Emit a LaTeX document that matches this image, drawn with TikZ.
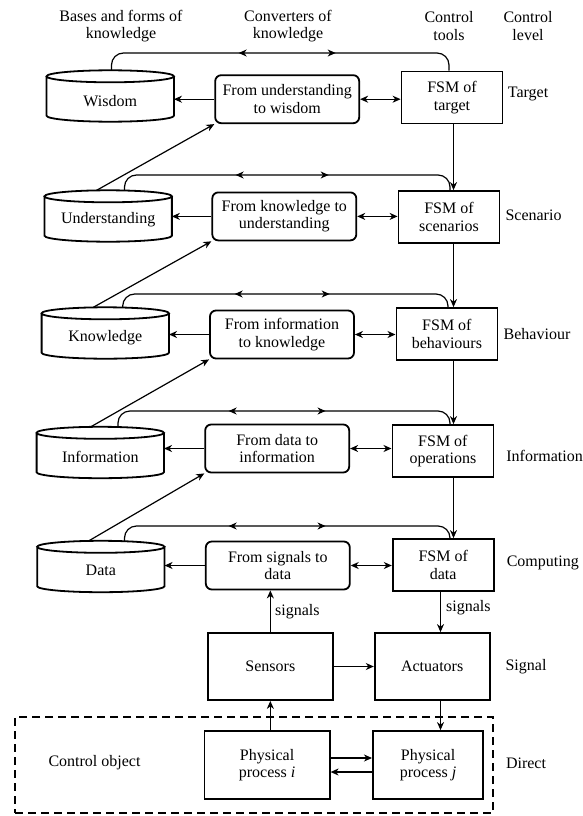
\documentclass[tikz,border=0pt]{standalone}
\usepackage{fontspec}
\setmainfont{Liberation Serif}
\newfontfamily\tnr{Liberation Serif}
\usetikzlibrary{arrows.meta,calc,decorations.markings}
\newcommand\drawcyl[1]{%
  \draw[boxline] let \p1=(#1.north west), \p2=(#1.south east), \n1={(\x2-\x1)/2} in
    ($(#1.north)+(0,6)$) ellipse [x radius=\n1, y radius=6pt]
    (\x1,\y1-6pt) -- (\x1,\y2+6pt) arc [start angle=180, end angle=360, x radius=\n1, y radius=6pt] -- (\x2,\y1-6pt);
}
\begin{document}
\begin{tikzpicture}[x=1pt,y=-1pt,
  every node/.style={font=\tnr\fontsize{16}{17.5}\selectfont},
  >={Stealth[length=8pt,width=7pt,inset=2.5pt]},
  boxline/.style={line width=1.8pt},
  conn/.style={line width=1.2pt},
  cylbox/.style={minimum width=127pt, minimum height=51pt, inner sep=0pt},
  conv/.style={draw, line width=1.8pt, rounded corners=6pt, minimum width=144pt, minimum height=48pt, align=center, inner sep=0pt},
  fsm/.style={draw, line width=1.8pt, minimum width=101pt, minimum height=52pt, align=center, inner sep=0pt},
  blk/.style={draw, line width=1.8pt, minimum height=67pt, align=center, inner sep=0pt},
  hdr/.style={align=center, inner sep=0pt},
  twoheads/.style 2 args={postaction={decorate,decoration={markings,
      mark=at position #1pt with {\arrowreversed{>}},
      mark=at position #2pt with {\arrow{>}}}}},
  arcline/.style={conn, rounded corners=12pt}
]
\useasboundingbox (0,0) rectangle (583,816);

% headers
\node[hdr] (h1) at (121,26) {Bases and forms of\\knowledge};
\node[hdr] (h2) at (288,26) {Converters of\\knowledge};
\node[hdr] (h3) at (449,26) {Control\\tools};
\node[hdr] (h4) at (528,26) {Control\\level};

% row 1
\node[cylbox] (wis) at (110.25,96) {};
\drawcyl{wis}
\node (wisT) at ($(wis.center)+(0,5)$) {Wisdom};
\node[conv] (cv1) at (287.2,99.2) {From understanding\\to wisdom};
\node[fsm] (fsm1) at (452,97.5) {FSM of\\target};
\node (lv1) at (528,94) {Target};

% row 2
\node[cylbox] (und) at (108.15,216) {};
\drawcyl{und}
\node (undT) at ($(und.center)+(0,4)$) {Understanding};
\node[conv] (cv2) at (284.3,216.4) {From knowledge to\\understanding};
\node[fsm] (fsm2) at (449,217) {FSM of\\scenarios};
\node (lv2) at (533.5,215) {Scenario};

% row 3
\node[cylbox] (kno) at (105.3,333) {};
\drawcyl{kno}
\node (knoT) at ($(kno.center)+(0,5)$) {Knowledge};
\node[conv] (cv3) at (282,334.5) {From information\\to knowledge};
\node[fsm] (fsm3) at (446.9,334) {FSM of\\behaviours};
\node (lv3) at (537,334) {Behaviour};

% row 4
\node[cylbox] (inf) at (100.3,452.5) {};
\drawcyl{inf}
\node (infT) at ($(inf.center)+(0,4)$) {Information};
\node[conv] (cv4) at (277.2,448.5) {From data to\\information};
\node[fsm] (fsm4) at (442.9,451) {FSM of\\operations};
\node (lv4) at (544.6,456) {Information};

% row 5
\node[cylbox] (dat) at (100.85,566.5) {};
\drawcyl{dat}
\node (datT) at ($(dat.center)+(0,4)$) {Data};
\node[conv] (cv5) at (277.8,565.5) {From signals to\\data};
\node[fsm] (fsm5) at (443.2,565) {FSM of\\data};
\node (lv5) at (542.8,563) {Computing};

% bottom
\node[blk, minimum width=124.7pt] (sen) at (270.35,666.5) {Sensors};
\node[blk, minimum width=114.9pt] (act) at (432.15,666.5) {Actuators};
\node (lv6) at (526,667) {Signal};
\node[draw, line width=1.6pt, dash pattern=on 8pt off 5pt, minimum width=478pt, minimum height=96pt] (obj) at (254,765) {};
\node[blk, minimum width=125.2pt, minimum height=68pt] (ppi) at (267.1,765) {Physical\\process \textit{i}};
\node[blk, minimum width=110.4pt, minimum height=68pt] (ppj) at (428.1,765) {Physical\\process \textit{j}};
\node (objT) at (94.5,763) {Control object};
\node (lv7) at (526,763) {Direct};

% helper coordinates
\coordinate (vx) at (453.5,0);
\coordinate (sx) at (440.5,0);

% horizontal arrows
\foreach \c/\k/\f in {wis/cv1/fsm1, und/cv2/fsm2, kno/cv3/fsm3, inf/cv4/fsm4, dat/cv5/fsm5}{
  \draw[conn,->] (\k.west) -- (\k.west -| \c.east);
  \draw[conn,<->] (\k.east) -- (\k.east -| \f.west);
}

% vertical arrows between FSMs
\draw[conn,->] (fsm1.south -| vx) -- (fsm2.north -| vx);
\draw[conn,->] (fsm2.south -| vx) -- (fsm3.north -| vx);
\draw[conn,->] (fsm3.south -| vx) -- (fsm4.north -| vx);
\draw[conn,->] (fsm4.south -| vx) -- (fsm5.north -| vx);

% diagonals
\draw[conn,->] ($(und.north)+(-11.5,0)$) -- (cv1.south west);
\draw[conn,->] ($(kno.north)+(-12,0)$) -- (cv2.south west);
\draw[conn,->] ($(inf.north)+(-9.5,0)$) -- (cv3.south west);
\draw[conn,->] ($(dat.north)+(-12,0)$) -- (cv4.south west);

% arcs
\coordinate (a1s) at (111.5,53);  \coordinate (a1e) at (449,53);
\coordinate (a2s) at (124.5,175); \coordinate (a2e) at (450,175);
\coordinate (a3s) at (122.7,294); \coordinate (a3e) at (448,294);
\coordinate (a4s) at (118,411);   \coordinate (a4e) at (450,411);
\coordinate (a5s) at (124.5,526); \coordinate (a5e) at (450,526);
\draw[arcline, twoheads={139.3}{236.3}] (wis.north -| a1s) -- (a1s) -- (a1e) -- (fsm1.north -| a1e);
\draw[arcline, twoheads={121.3}{214.3}] (und.north -| a2s) -- (a2s) -- (a2e) -- (fsm2.north -| a2e);
\draw[arcline, twoheads={120.1}{215.1}] (kno.north -| a3s) -- (a3s) -- (a3e) -- (fsm3.north -| a3e);
\draw[arcline, twoheads={121.3}{218.2}] (inf.north -| a4s) -- (a4s) -- (a4e) -- (fsm4.north -| a4e);
\draw[arcline, twoheads={113.8}{210.7}] (dat.north -| a5s) -- (a5s) -- (a5e) -- (fsm5.north -| a5e);

% signals
\draw[conn,->] (sen.north) -- (sen.north |- cv5.south);
\node[anchor=west, inner sep=0pt] (sig1) at (275,612) {signals};
\draw[conn,->] (fsm5.south -| sx) -- (act.north -| sx);
\node[anchor=west, inner sep=0pt] (sig2) at (446,608) {signals};
\draw[conn,->] (sen.east) -- (sen.east -| act.west);
\draw[conn,->] (act.south -| sx) -- (ppj.north -| sx);
\draw[conn,->] (ppi.north -| sen.south) -- (sen.south);
\draw[conn,->] ([yshift=7pt]ppi.east) -- ([yshift=7pt]ppi.east -| ppj.west);
\draw[conn,->] ([yshift=-7pt]ppj.west) -- ([yshift=-7pt]ppj.west -| ppi.east);
\end{tikzpicture}
\end{document}
